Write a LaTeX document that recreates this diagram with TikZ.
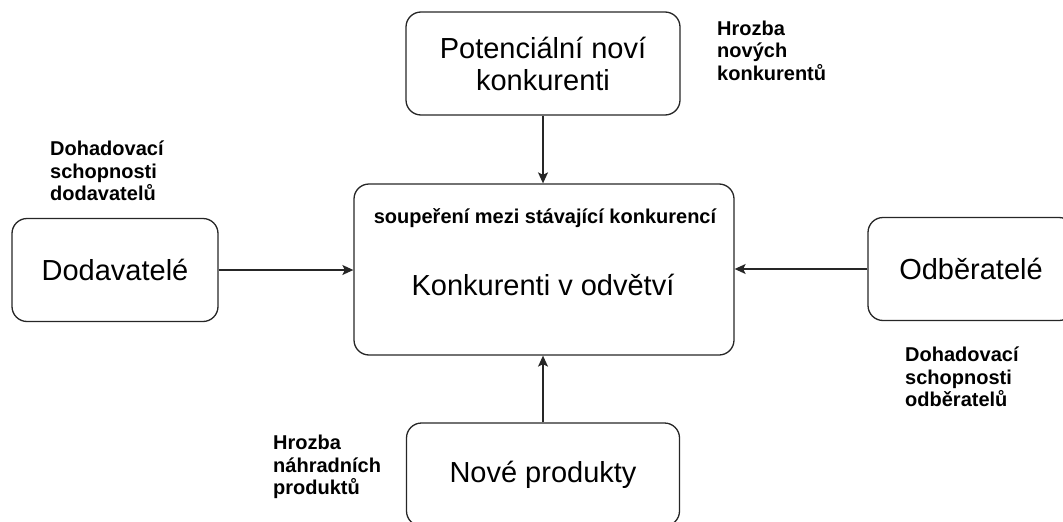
\documentclass[tikz,border=0pt]{standalone}
\usepackage{fontspec}
\setmainfont{Liberation Sans}
\usetikzlibrary{arrows.meta}
\tikzset{
  box/.style={draw=black!85, line width=1.3pt, rounded corners=15pt, inner sep=0pt,
    align=center, font=\fontsize{29}{32}\selectfont},
  lbl/.style={anchor=north west, inner sep=0pt, align=left,
    font=\fontsize{20}{22.5}\selectfont\bfseries},
  conn/.style={draw=black!85, line width=1.3pt,
    -{Stealth[length=11pt,width=10pt,inset=2.5pt]}}
}
\begin{document}
\begin{tikzpicture}[x=1pt,y=-1pt]
\useasboundingbox (0,0) rectangle (1063,522);
\clip (0,0) rectangle (1063,522);
% boxes
\node[box, minimum width=274pt, minimum height=103pt] (top) at (543,63.5) {Potenciální noví\\konkurenti};
\node[box, minimum width=206pt, minimum height=103pt] (left) at (115,270) {Dodavatelé};
\node[box, minimum width=206pt, minimum height=103pt] (right) at (971,269) {Odběratelé};
\node[box, minimum width=273pt, minimum height=103pt] (bottom) at (543,474.5) {Nové produkty};
\node[box, minimum width=380pt, minimum height=171pt] (center) at (544,269.5) {};
% texts in the central box
\node[anchor=base, inner sep=0pt, font=\fontsize{20}{22.5}\selectfont\bfseries] (rivalry) at (545,223) {soupeření mezi stávající konkurencí};
\node[anchor=base, inner sep=0pt, font=\fontsize{29}{32}\selectfont] (industry) at (543,295) {Konkurenti v odvětví};
% labels
\node[lbl] (threatnew) at (717,20.5) {Hrozba\\nových\\konkurentů};
\node[lbl] (supp) at (50,141) {Dohadovací\\schopnosti\\dodavatelů};
\node[lbl] (buy) at (905,347) {Dohadovací\\schopnosti\\odběratelů};
\node[lbl] (subst) at (273,435) {Hrozba\\náhradních\\produktů};
% connectors
\draw[conn] (top.south) -- (top.south |- center.north);
\draw[conn] (left.east) -- (left.east -| center.west);
\draw[conn] (right.west) -- (right.west -| center.east);
\draw[conn] (bottom.north) -- (bottom.north |- center.south);
\end{tikzpicture}
\end{document}
